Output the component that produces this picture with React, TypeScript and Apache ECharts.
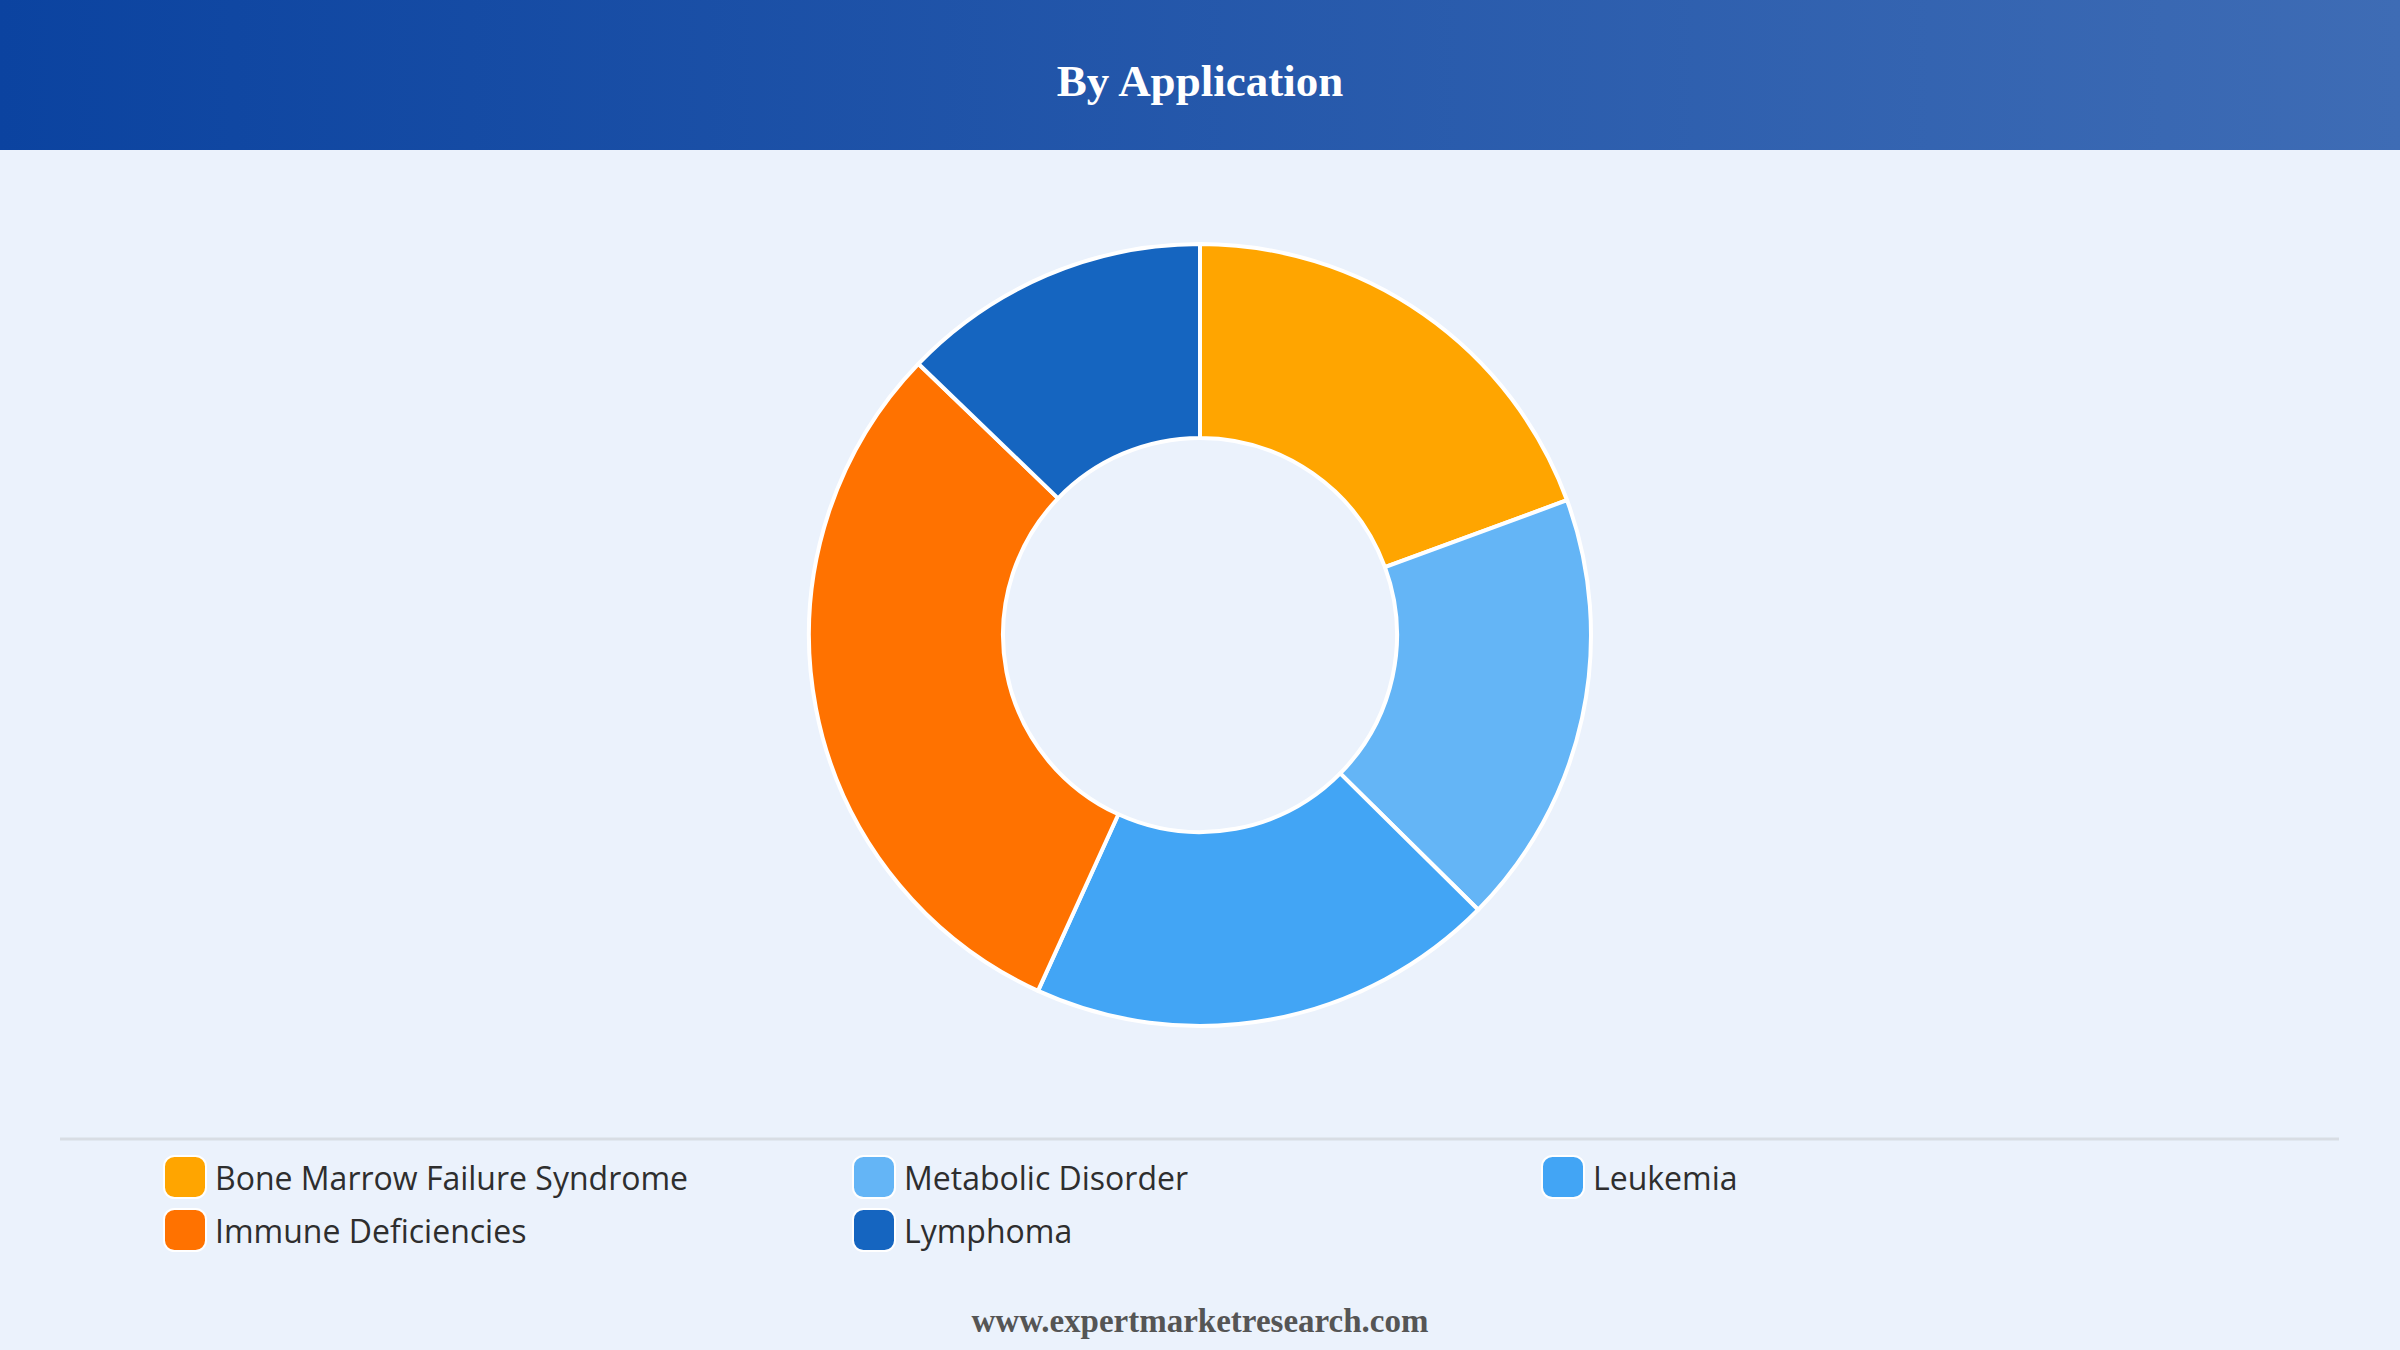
import React, { useEffect, useRef } from "react";
import * as echarts from "echarts";

const categories = [
  "Bone Marrow Failure Syndrome",
  "Metabolic Disorder",
  "Leukemia",
  "Immune Deficiencies",
  "Lymphoma",
];
const values = [19.4, 18.0, 19.4, 30.4, 12.8];
const colors = ["#FFA500", "#64B5F6", "#42A5F5", "#FF7200", "#1565C0"];
const titleText = "By Application";
const footerText = "www.expertmarketresearch.com";

const legendPos = [
  { left: 163, top: 1155 },
  { left: 852, top: 1155 },
  { left: 1541, top: 1155 },
  { left: 163, top: 1208 },
  { left: 852, top: 1208 },
];

export default function App() {
  const ref = useRef<HTMLDivElement>(null);
  useEffect(() => {
    document.body.style.margin = "0";
    if (!ref.current) return;
    const chart = echarts.init(ref.current, undefined, { renderer: "svg" });
    chart.setOption({
      animation: false,
      backgroundColor: "#EBF2FC",
      title: {
        text: titleText,
        left: "center",
        top: 53,
        textStyle: {
          color: "#ffffff",
          fontFamily: "Liberation Serif",
          fontWeight: "bold",
          fontSize: 45,
        },
      },
      legend: categories.map((name, i) => ({
        data: [name],
        left: legendPos[i].left,
        top: legendPos[i].top,
        padding: 0,
        icon: "roundRect",
        itemWidth: 42,
        itemHeight: 42,
        selectedMode: false,
        textStyle: {
          color: "#2E2E2E",
          fontFamily: "Open Sans",
          fontSize: 32,
          padding: [0, 0, 0, 4],
        },
      })),
      graphic: [
        {
          type: "rect",
          z: -1,
          shape: { x: 0, y: 0, width: 2400, height: 150 },
          style: {
            fill: new echarts.graphic.LinearGradient(0, 0, 1, 0, [
              { offset: 0, color: "#0B43A0" },
              { offset: 1, color: "#3E6CB5" },
            ]),
          },
        },
        {
          type: "line",
          shape: { x1: 60, y1: 1139, x2: 2339, y2: 1139 },
          style: { stroke: "#D8DDE4", lineWidth: 3 },
        },
        {
          type: "text",
          left: "center",
          top: 1304,
          style: {
            text: footerText,
            fill: "#555555",
            font: "bold 33px 'Liberation Serif'",
          },
        },
      ],
      series: [
        {
          type: "pie",
          center: [1200, 635],
          radius: [197, 391],
          startAngle: 90,
          clockwise: true,
          label: { show: false },
          labelLine: { show: false },
          itemStyle: { borderColor: "#ffffff", borderWidth: 4 },
          data: categories.map((name, i) => ({
            name,
            value: values[i],
            itemStyle: { color: colors[i] },
          })),
        },
      ],
    });
    return () => chart.dispose();
  }, []);
  return <div ref={ref} style={{ width: 2400, height: 1350 }} />;
}
